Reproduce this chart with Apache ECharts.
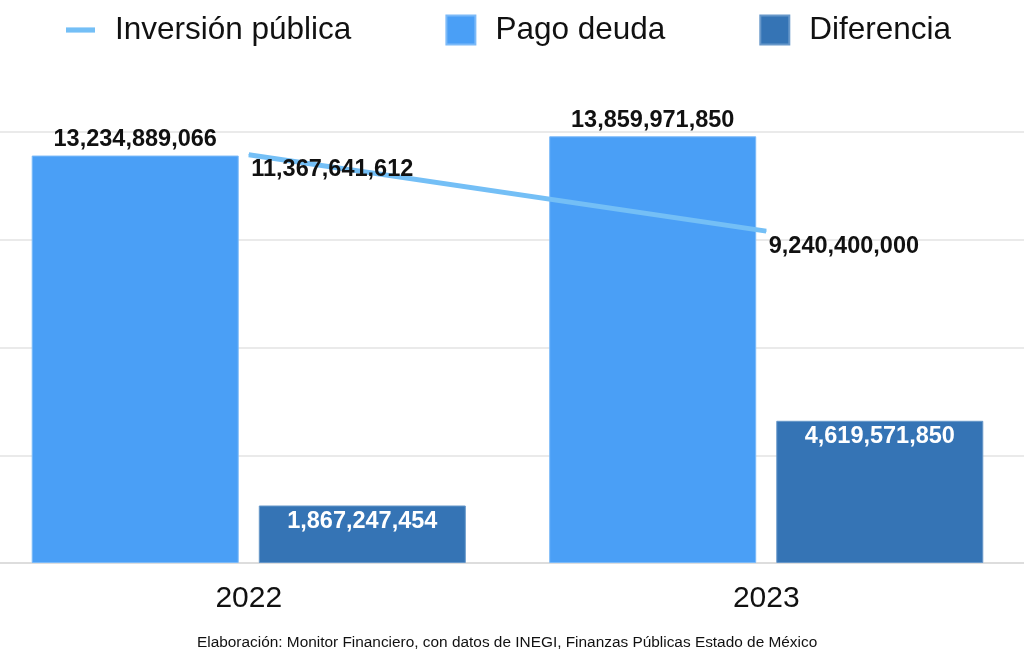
<!DOCTYPE html>
<html>
<head>
<meta charset="utf-8">
<script src="https://cdn.jsdelivr.net/npm/echarts@6/dist/echarts.min.js"></script>
<style>
html,body{margin:0;padding:0;background:#fff;overflow:hidden;width:1024px;height:667px;position:relative;}
#chart{position:absolute;left:-10px;top:0;width:1035px;height:667px;}
</style>
</head>
<body>
<div id="chart"></div>
<script>
const categories = ['2022', '2023'];
const inversionPublica = [11367641612, 9240400000];
const pagoDeuda = [13234889066, 13859971850];
const diferencia = [1867247454, 4619571850];
const seriesNames = ['Inversión pública', 'Pago deuda', 'Diferencia'];
const footnote = 'Elaboración: Monitor Financiero, con datos de INEGI, Finanzas Públicas Estado de México';

const FONT = '"Liberation Sans", Arial, Helvetica, sans-serif';
const fmt = v => String(v).replace(/\B(?=(\d{3})+(?!\d))/g, ',');

const chart = echarts.init(document.getElementById('chart'), null, {renderer: 'canvas'});
chart.setOption({
  animation: false,
  backgroundColor: '#ffffff',
  textStyle: {fontFamily: FONT},
  legend: {
    top: 14,
    left: 76,
    padding: 0,
    itemWidth: 29,
    itemHeight: 29,
    itemGap: 94,
    symbolKeepAspect: true,
    textStyle: {fontSize: 31.5, color: '#111', fontFamily: FONT, padding: [0, 0, 0, 15]},
    data: [
      {name: seriesNames[0], icon: 'path://M0,0H28V5H0Z'},
      {name: seriesNames[1], icon: 'rect'},
      {name: seriesNames[2], icon: 'rect'}
    ]
  },
  grid: {left: 0, right: 0, top: 132, bottom: 104, containLabel: false},
  xAxis: {
    type: 'category',
    data: categories,
    axisTick: {show: false},
    axisLine: {lineStyle: {color: '#d8d8d8', width: 1.5}},
    axisLabel: {fontSize: 30, color: '#111', margin: 21, fontFamily: FONT}
  },
  yAxis: [
    {
      type: 'value', min: 0, max: 14000000000, interval: 3500000000,
      axisLabel: {show: false}, axisLine: {show: false}, axisTick: {show: false},
      splitLine: {lineStyle: {color: '#e3e3e3', width: 1.5}}
    },
    {
      type: 'value', min: 0, max: 12000000000,
      axisLabel: {show: false}, axisLine: {show: false}, axisTick: {show: false},
      splitLine: {show: false}
    }
  ],
  series: [
    {
      name: seriesNames[1],
      type: 'bar',
      data: pagoDeuda,
      barWidth: 207,
      barGap: '9.7%',
      itemStyle: {color: '#4a9ff6', borderColor: '#7cbaf8', borderWidth: 1},
      label: {
        show: true, position: 'top', distance: 4,
        fontSize: 23.5, fontWeight: 'bold', color: '#111', fontFamily: FONT,
        formatter: p => fmt(p.value)
      },
      z: 2
    },
    {
      name: seriesNames[2],
      type: 'bar',
      data: diferencia,
      barWidth: 207,
      barGap: '9.7%',
      itemStyle: {color: '#3574b5', borderColor: '#6797c9', borderWidth: 1},
      label: {
        show: true, position: 'insideTop', distance: 4,
        fontSize: 23.5, fontWeight: 'bold', color: '#ffffff', fontFamily: FONT,
        formatter: p => fmt(p.value)
      },
      z: 2
    },
    {
      name: seriesNames[0],
      type: 'line',
      yAxisIndex: 1,
      data: inversionPublica,
      symbol: 'circle',
      symbolSize: 1,
      itemStyle: {color: '#74bff6'},
      lineStyle: {color: '#74bff6', width: 5},
      label: {
        show: true, position: 'right', distance: 0, offset: [2, 15],
        fontSize: 23.5, fontWeight: 'bold', color: '#111', fontFamily: FONT,
        formatter: p => fmt(p.value)
      },
      z: 3
    }
  ],
  graphic: [{
    type: 'text',
    left: 207,
    top: 635,
    style: {text: footnote, fontSize: 15.4, fill: '#111', fontFamily: FONT}
  }]
});
</script>
</body>
</html>
